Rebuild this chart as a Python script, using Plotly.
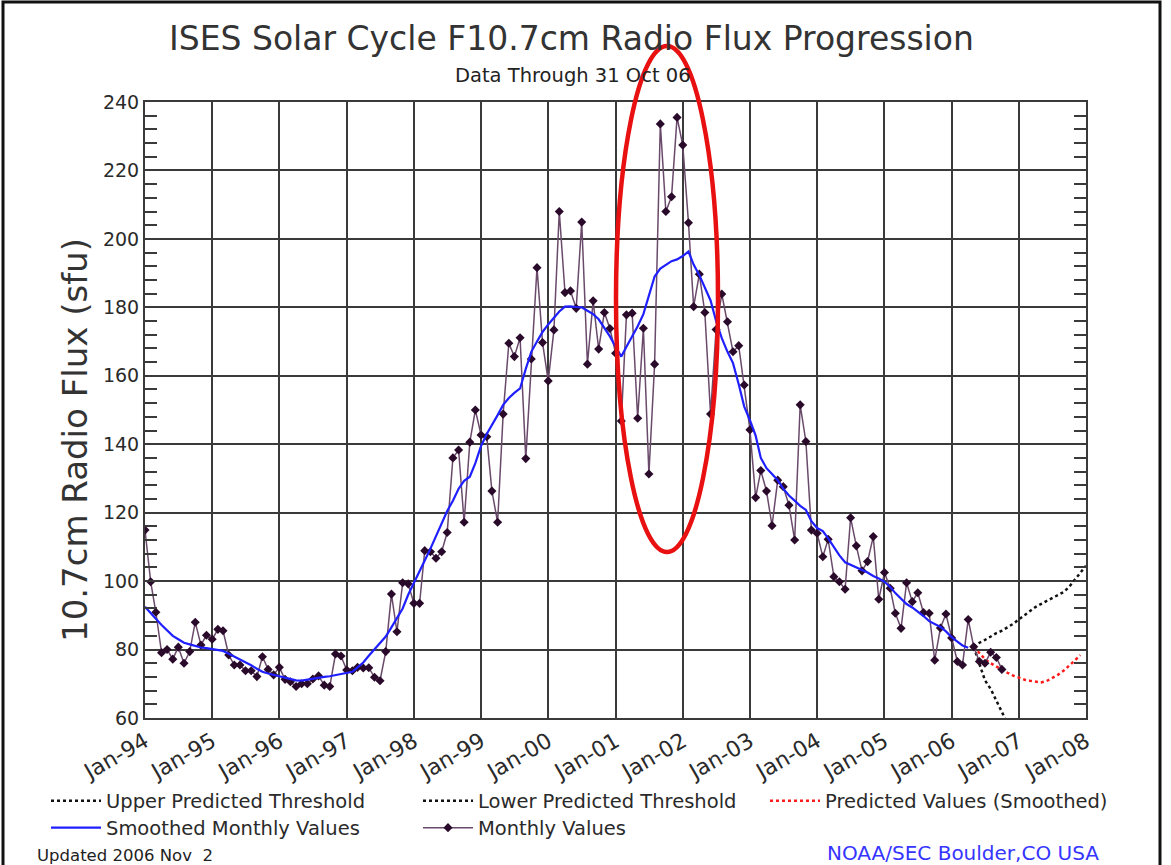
import pandas as pd
import plotly.graph_objects as go

# ---------------- data ----------------
start_month = "1994-01-01"

monthly_values = [
    114.9, 99.8, 90.9, 79.1, 80.0, 77.2, 80.7, 76.0, 79.4, 88.0, 81.3, 84.2,      # 1994
    83.0, 85.9, 85.5, 78.4, 75.5, 75.5, 73.8, 73.8, 72.1, 77.9, 74.2, 72.6,       # 1995
    74.8, 71.3, 70.6, 69.2, 70.0, 70.0, 71.4, 72.3, 69.6, 69.2, 78.7, 78.1,       # 1996
    74.0, 73.8, 74.8, 74.6, 74.7, 71.9, 70.9, 79.4, 96.2, 85.2, 99.5, 99.2,       # 1997
    93.5, 93.5, 108.9, 108.6, 106.7, 108.6, 114.2, 136.0, 138.3, 117.2, 140.6, 150.0,  # 1998
    142.7, 142.2, 126.3, 117.2, 148.8, 169.5, 165.6, 171.1, 135.8, 164.9, 191.6, 169.7,  # 1999
    158.5, 173.4, 208.0, 184.3, 184.8, 179.7, 204.9, 163.4, 181.9, 167.8, 178.5, 173.8,  # 2000
    166.6, 146.8, 177.8, 178.3, 147.6, 173.9, 131.3, 163.4, 233.6, 208.0, 212.3, 235.5,  # 2001
    227.4, 204.7, 180.2, 189.7, 178.5, 148.8, 173.5, 183.9, 175.8, 167.0, 168.8, 157.3,  # 2002
    144.2, 124.4, 132.3, 126.3, 116.2, 129.5, 127.6, 122.2, 112.0, 151.5, 140.8, 114.9,  # 2003
    114.0, 107.1, 112.2, 101.3, 99.8, 97.6, 118.5, 110.3, 103.0, 105.7, 113.0, 94.7,     # 2004
    102.5, 97.9, 90.6, 86.2, 99.5, 94.0, 96.6, 90.8, 90.6, 76.9, 86.3, 90.4,             # 2005
    83.4, 76.5, 75.5, 88.8, 80.8, 76.5, 76.0, 79.2, 77.7, 74.2,                          # 2006 (to Oct)
]

smoothed_values = [
    92.5, 90.8, 89.0, 87.2, 85.5, 84.0, 83.0, 82.0, 81.5, 81.0, 80.6, 80.4,
    80.2, 80.0, 79.6, 78.8, 78.0, 77.2, 76.4, 75.4, 74.4, 73.5, 73.0, 72.6,
    72.1, 71.7, 71.3, 71.0, 70.9, 71.2, 71.6, 71.8, 72.0, 72.2, 72.5, 72.8,
    73.1, 73.5, 74.8, 76.2, 78.2, 80.0, 81.8, 83.8, 86.5, 89.3, 92.0, 96.0,
    99.3, 102.8, 106.0, 109.5, 113.0, 116.8, 120.5, 123.5, 127.0, 129.3, 130.5, 134.5,
    139.5, 143.0, 145.5, 148.5, 151.5, 153.5, 155.0, 156.3, 162.0, 167.0, 170.0, 172.8,
    175.0, 177.0, 178.8, 180.2, 180.3, 180.1, 180.0, 179.0, 178.0, 176.5, 174.0, 171.5,
    168.5, 165.6, 168.5, 171.5, 174.5, 178.0, 183.5, 189.0, 191.3, 192.5, 193.5, 194.0,
    195.0, 196.3, 192.5, 189.4, 185.5, 182.0, 176.0, 171.0, 167.0, 163.7, 157.5, 151.0,
    147.0, 142.5, 136.0, 133.0, 131.3, 129.5, 127.0, 125.0, 123.5, 122.0, 120.8, 117.5,
    115.5, 114.6, 112.5, 110.0, 107.5, 105.5, 104.8, 104.0, 103.2, 102.5, 101.5, 100.8,
    99.8, 98.3, 96.5, 94.8, 93.3, 92.3, 91.2, 89.8, 88.3, 87.5, 86.6, 85.3,
    83.6, 82.3, 81.2, 80.5,
]

prediction_start = "2006-05-01"
predicted_smoothed = [80.8, 78.8, 77.2, 76.0, 75.0, 74.0, 73.2, 72.4, 71.7, 71.2,
                      70.9, 70.6, 70.4, 70.8, 71.6, 72.6, 73.8, 75.2, 76.8, 78.4]
upper_threshold = [80.8, 82.0, 82.8, 83.8, 84.8, 85.5, 86.5, 87.5, 88.8, 90.0, 91.3,
                   92.4, 93.3, 94.2, 95.0, 95.8, 96.8, 98.3, 100.5, 102.5, 104.5]
lower_threshold = [80.8, 76.0, 71.0, 68.5, 65.0, 62.0, 58.5, 55.0]

year_ticks = ["1994-01-01", "2008-01-01"]
y_range = [60, 240]

# ---------------- dates ----------------
months = pd.date_range(start_month, periods=len(monthly_values), freq="MS")
months_s = pd.date_range(start_month, periods=len(smoothed_values), freq="MS")
pred_m = pd.date_range(prediction_start, periods=len(predicted_smoothed), freq="MS")
up_m = pd.date_range(prediction_start, periods=len(upper_threshold), freq="MS")
lo_m = pd.date_range(prediction_start, periods=len(lower_threshold), freq="MS")

FONT = "DejaVu Sans"
TXT = "#2a2a2a"

fig = go.Figure()

fig.add_trace(go.Scatter(x=up_m, y=upper_threshold, mode="lines",
                         name="Upper Predicted Threshold",
                         line=dict(color="#111111", width=2.5, dash="dot"),
                         legend="legend"))
fig.add_trace(go.Scatter(x=lo_m, y=lower_threshold, mode="lines",
                         name="Lower Predicted Threshold",
                         line=dict(color="#111111", width=2.5, dash="dot"),
                         legend="legend2"))
fig.add_trace(go.Scatter(x=pred_m, y=predicted_smoothed, mode="lines",
                         name="Predicted Values (Smoothed)",
                         line=dict(color="#ff1a1a", width=2.5, dash="dot"),
                         legend="legend3"))
fig.add_trace(go.Scatter(x=months, y=monthly_values, mode="lines+markers",
                         name="Monthly Values",
                         line=dict(color="#6a4a6a", width=1.5),
                         marker=dict(symbol="diamond", size=7, color="#2a0a2a"),
                         legend="legend5"))
fig.add_trace(go.Scatter(x=months_s, y=smoothed_values, mode="lines",
                         name="Smoothed Monthly Values",
                         line=dict(color="#1f1fff", width=2.2),
                         legend="legend4"))

W, H = 1171, 865
L, R, T, B = 145, 85, 102, 147
pw, ph = W - L - R, H - T - B


def px(xp):
    return (xp - L) / pw


def py(yp):
    return (H - B - yp) / ph


leg_common = dict(orientation="h", xanchor="left", yanchor="middle",
                  bgcolor="rgba(0,0,0,0)", font=dict(family=FONT, size=19.5, color=TXT),
                  itemwidth=50)

fig.update_layout(
    width=W, height=H,
    margin=dict(l=L, r=R, t=T, b=B),
    paper_bgcolor="white", plot_bgcolor="white",
    font=dict(family=FONT, color=TXT),
    showlegend=True,
    legend=dict(x=px(46), y=py(801), **leg_common),
    legend2=dict(x=px(418), y=py(801), **leg_common),
    legend3=dict(x=px(765), y=py(801), **leg_common),
    legend4=dict(x=px(46), y=py(828), **leg_common),
    legend5=dict(x=px(418), y=py(828), **leg_common),
    xaxis=dict(type="date", range=year_ticks, tick0=year_ticks[0], dtick="M12",
               tickformat="%b-%y", tickangle=-30,
               tickfont=dict(family=FONT, size=22, color=TXT),
               showgrid=True, gridcolor="#3a3a3a", gridwidth=1.6,
               showline=True, linecolor="#3a3a3a", linewidth=2, mirror=True,
               ticks="", zeroline=False),
    yaxis=dict(range=y_range, dtick=20, tick0=60,
               tickfont=dict(family=FONT, size=19, color=TXT),
               showgrid=True, gridcolor="#3a3a3a", gridwidth=1.6,
               showline=True, linecolor="#3a3a3a", linewidth=2, mirror="allticks",
               ticks="inside", ticklen=12, tickcolor="#3a3a3a", tickwidth=2,
               minor=dict(dtick=4, ticks="inside", ticklen=12, tickcolor="#3a3a3a",
                          tickwidth=2, showgrid=False),
               zeroline=False),
)

fig.add_annotation(text="ISES Solar Cycle F10.7cm Radio Flux Progression",
                   x=px(571), y=py(39), xref="paper", yref="paper",
                   xanchor="center", yanchor="middle",
                   showarrow=False, font=dict(family=FONT, size=33, color="#333333"))
fig.add_annotation(text="Data Through 31 Oct 06",
                   x=px(573), y=py(75), xref="paper", yref="paper",
                   xanchor="center", yanchor="middle",
                   showarrow=False, font=dict(family=FONT, size=19.5, color="#222222"))
fig.add_annotation(text="10.7cm Radio Flux (sfu)", textangle=-90,
                   x=px(75), y=py(440), xref="paper", yref="paper",
                   xanchor="center", yanchor="middle",
                   showarrow=False, font=dict(family=FONT, size=34, color="#333333"))
fig.add_annotation(text="Updated 2006 Nov  2",
                   x=px(35), y=py(855), xref="paper", yref="paper",
                   xanchor="left", yanchor="middle",
                   showarrow=False, font=dict(family=FONT, size=16.5, color="#222222"))
fig.add_annotation(text="NOAA/SEC Boulder,CO USA",
                   x=px(825), y=py(853), xref="paper", yref="paper",
                   xanchor="left", yanchor="middle",
                   showarrow=False, font=dict(family=FONT, size=20, color="#3535ff"))

# red highlight ellipse
fig.add_shape(type="circle", xref="paper", yref="paper",
              x0=px(616), x1=px(718), y0=py(552), y1=py(46),
              line=dict(color="#e81010", width=4.5), layer="above")

# outer frame
fig.add_shape(type="rect", xref="paper", yref="paper",
              x0=px(3), x1=px(1160), y0=py(880), y1=py(2),
              line=dict(color="#111111", width=3), layer="above")

fig.write_html("out.html", config={"displayModeBar": False},
               post_script="document.body.style.margin='0';")
